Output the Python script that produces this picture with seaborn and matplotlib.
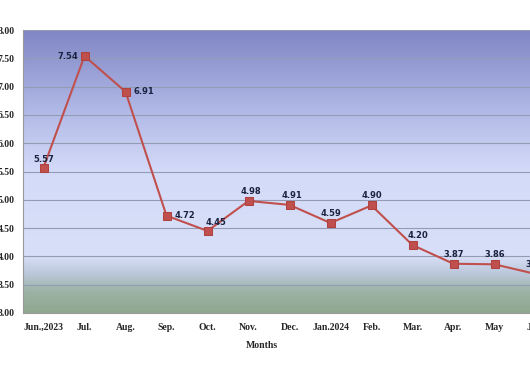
import matplotlib
matplotlib.use("Agg")
import matplotlib.pyplot as plt
import numpy as np
import pandas as pd
import seaborn as sns
from matplotlib.colors import LinearSegmentedColormap

# Data
months = ["Jun.,2023", "Jul.", "Aug.", "Sep.", "Oct.", "Nov.", "Dec.",
          "Jan.2024", "Feb.", "Mar.", "Apr.", "May", "Jun."]
values = [5.57, 7.54, 6.91, 4.72, 4.45, 4.98, 4.91, 4.59, 4.90, 4.20, 3.87, 3.86, 3.69]

# label offsets in points (dx, dy)
label_offsets = [(0, 6), (-12, 0), (13, 0), (13, 0), (6, 6), (2, 7), (2, 7),
                 (0, 7), (0, 7), (4, 7), (0, 7), (0, 7), (0, 7)]

df = pd.DataFrame({"idx": np.arange(len(months)), "value": values})

sns.set_style("white")
fig = plt.figure(figsize=(5.3, 3.74), dpi=100)
ax = fig.add_axes([23 / 530, 61 / 374, 533 / 530, 283 / 374])

# background gradient
cmap = LinearSegmentedColormap.from_list("bg", [
    (0.0, "#8ea890"), (0.07, "#9bb2a2"), (0.14, "#bcc8dc"), (0.2, "#d8dff7"),
    (0.5, "#d4dbf9"), (0.75, "#abb3e3"), (1.0, "#7f86c4")])
grad = np.linspace(0, 1, 256).reshape(-1, 1)
ax.imshow(grad, cmap=cmap, origin="lower", aspect="auto", extent=[0, 1, 0, 1],
          transform=ax.transAxes, zorder=0)

sns.lineplot(data=df, x="idx", y="value", ax=ax, color="#c0504d", lw=1.5,
             marker="s", markersize=5.5, markeredgecolor="#b04340", zorder=3)

for i, v in enumerate(values):
    dx, dy = label_offsets[i]
    ax.annotate(f"{v:.2f}", (i, v), xytext=(dx, dy), textcoords="offset points",
                ha="center", va="center", fontsize=6, fontweight="bold",
                color="#1a2240", family="DejaVu Sans", zorder=4)

ax.set_xlim(-0.5, len(months) - 0.5)
ax.set_ylim(3.0, 8.0)
ax.set_yticks(np.arange(3.0, 8.01, 0.5))
ax.set_yticklabels([f"{t:.2f}" for t in np.arange(3.0, 8.01, 0.5)],
                   fontsize=7, fontweight="bold", family="Liberation Serif")
ax.set_xticks(np.arange(len(months)))
ax.set_xticklabels(months, fontsize=7, fontweight="bold", family="Liberation Serif")
ax.set_xticks(np.arange(len(months)) - 0.5, minor=True)
ax.tick_params(axis="x", which="major", length=0, pad=7)
ax.tick_params(axis="x", which="minor", length=4, color="#999999", direction="out")
ax.tick_params(axis="y", length=4, color="#999999", direction="out", pad=2)
ax.grid(axis="y", color="#949bb4", lw=0.8, zorder=1)
ax.set_axisbelow(True)

for s in ["top", "right"]:
    ax.spines[s].set_visible(False)
for s in ["left", "bottom"]:
    ax.spines[s].set_color("#999999")
    ax.spines[s].set_linewidth(0.8)

ax.set_xlabel("Months", fontsize=7, fontweight="bold", family="Liberation Serif")
ax.xaxis.set_label_coords((262 - 23) / 533, -0.098)
ax.set_ylabel("")

fig.savefig("out.png", dpi=100)
